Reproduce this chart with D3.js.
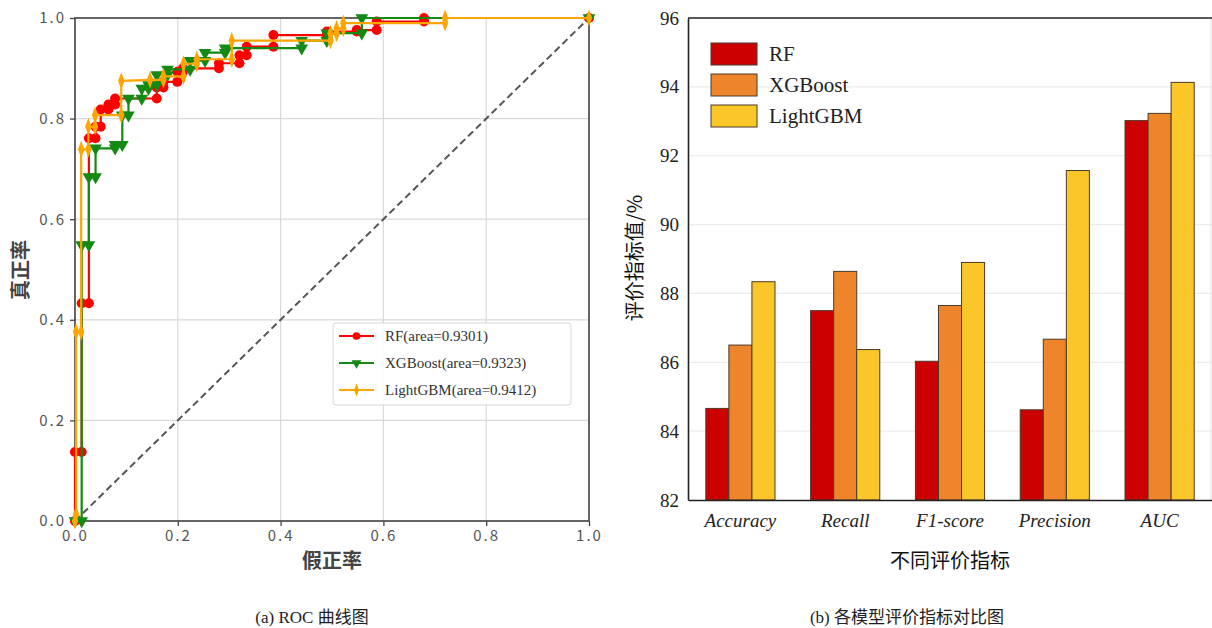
<!DOCTYPE html>
<html>
<head>
<meta charset="utf-8">
<script src="https://cdn.jsdelivr.net/npm/d3@7"></script>
<style>
  body { margin: 0; background: #fff; }
  svg { display: block; }
</style>
</head>
<body>
<svg id="chart" width="1212" height="628"></svg>
<script>
// ROC points (fpr, tpr)
const rfFpr  = [0, 0, 0.013, 0.013, 0.027, 0.027, 0.04, 0.04, 0.05, 0.05, 0.065, 0.065, 0.078, 0.078, 0.159, 0.159, 0.172, 0.172, 0.199, 0.199, 0.21, 0.21, 0.28, 0.28, 0.32, 0.32, 0.334, 0.334, 0.386, 0.386, 0.49, 0.49, 0.548, 0.548, 0.587, 0.587, 0.679, 0.679, 1];
const rfTpr  = [0, 0.137, 0.137, 0.433, 0.433, 0.761, 0.761, 0.784, 0.784, 0.818, 0.818, 0.828, 0.828, 0.84, 0.84, 0.862, 0.862, 0.873, 0.873, 0.893, 0.893, 0.9, 0.9, 0.91, 0.91, 0.926, 0.926, 0.943, 0.943, 0.966, 0.966, 0.973, 0.973, 0.976, 0.976, 0.993, 0.993, 1, 1];
const xgbFpr = [0, 0.013, 0.013, 0.027, 0.027, 0.04, 0.04, 0.078, 0.078, 0.092, 0.092, 0.104, 0.104, 0.13, 0.13, 0.143, 0.143, 0.159, 0.159, 0.18, 0.18, 0.224, 0.224, 0.253, 0.253, 0.292, 0.292, 0.441, 0.441, 0.49, 0.49, 0.558, 0.558, 1];
const xgbTpr = [0, 0, 0.549, 0.549, 0.684, 0.684, 0.741, 0.741, 0.748, 0.748, 0.807, 0.807, 0.84, 0.84, 0.86, 0.86, 0.867, 0.867, 0.887, 0.887, 0.898, 0.898, 0.915, 0.915, 0.931, 0.931, 0.94, 0.94, 0.955, 0.955, 0.97, 0.97, 1, 1];
const lgbFpr = [0, 0.002, 0.002, 0.012, 0.012, 0.026, 0.026, 0.039, 0.039, 0.09, 0.09, 0.146, 0.172, 0.172, 0.211, 0.211, 0.237, 0.237, 0.305, 0.305, 0.497, 0.497, 0.509, 0.509, 0.522, 0.522, 0.72, 0.72, 1];
const lgbTpr = [0, 0.013, 0.376, 0.376, 0.739, 0.739, 0.784, 0.784, 0.807, 0.807, 0.875, 0.877, 0.877, 0.884, 0.884, 0.909, 0.909, 0.918, 0.918, 0.955, 0.955, 0.969, 0.969, 0.979, 0.979, 0.99, 0.99, 1, 1];
const rocNames = ["RF(area=0.9301)", "XGBoost(area=0.9323)", "LightGBM(area=0.9412)"];
const rocTicks = [0, 0.2, 0.4, 0.6, 0.8, 1.0];

// bar chart values (%)
const metrics = ["Accuracy", "Recall", "F1-score", "Precision", "AUC"];
const models = ["RF", "XGBoost", "LightGBM"];
const rfScores  = [84.66, 87.50, 86.03, 84.62, 93.02];
const xgbScores = [86.50, 88.64, 87.65, 86.67, 93.23];
const lgbScores = [88.34, 86.37, 88.90, 91.57, 94.13];
const barTicks = [82, 84, 86, 88, 90, 92, 94, 96];

const svg = d3.select("#chart");
const cjk = "'Noto Sans CJK SC', sans-serif";
const serif = "'Liberation Serif', 'Noto Sans CJK SC', serif";

// ---------- left: ROC ----------
const L = { left: 75, right: 589, top: 18, bottom: 521 };
const x = d3.scaleLinear().domain([0, 1]).range([L.left, L.right]);
const y = d3.scaleLinear().domain([0, 1]).range([L.bottom, L.top]);

const left = svg.append("g");

// grid
left.append("g").selectAll("line.v").data(rocTicks).join("line")
  .attr("x1", d => x(d)).attr("x2", d => x(d))
  .attr("y1", L.top).attr("y2", L.bottom)
  .attr("stroke", "#d9d9d9").attr("stroke-width", 1.2);
left.append("g").selectAll("line.h").data(rocTicks).join("line")
  .attr("x1", L.left).attr("x2", L.right)
  .attr("y1", d => y(d)).attr("y2", d => y(d))
  .attr("stroke", "#d9d9d9").attr("stroke-width", 1.2);

// diagonal
left.append("line")
  .attr("x1", x(0)).attr("y1", y(0)).attr("x2", x(1)).attr("y2", y(1))
  .attr("stroke", "#555").attr("stroke-width", 2).attr("stroke-dasharray", "7,4");

// axes
const fmt = d => d.toFixed(1);
const axB = left.append("g").attr("transform", `translate(0,${L.bottom})`)
  .call(d3.axisBottom(x).tickValues(rocTicks).tickFormat(fmt).tickSize(5).tickPadding(4));
const axL = left.append("g").attr("transform", `translate(${L.left},0)`)
  .call(d3.axisLeft(y).tickValues(rocTicks).tickFormat(fmt).tickSize(5).tickPadding(4));
[axB, axL].forEach(a => {
  a.select(".domain").remove();
  a.selectAll(".tick line").attr("stroke", "#444").attr("stroke-width", 1.3);
  a.selectAll("text").attr("fill", "#555").style("font-family", cjk)
    .style("font-size", "15px").style("letter-spacing", "2px");
});

// frame
left.append("rect")
  .attr("x", L.left).attr("y", L.top)
  .attr("width", L.right - L.left).attr("height", L.bottom - L.top)
  .attr("fill", "none").attr("stroke", "#444").attr("stroke-width", 1.6);

const line = d3.line().x(d => x(d[0])).y(d => y(d[1]));
const series = [
  { fpr: rfFpr, tpr: rfTpr, color: "#ff0000", sym: d3.symbolCircle, size: 78, rot: 0, sx: 1 },
  { fpr: xgbFpr, tpr: xgbTpr, color: "#138a13", sym: d3.symbolTriangle, size: 70, rot: 180, sx: 1 },
  { fpr: lgbFpr, tpr: lgbTpr, color: "#ffa500", sym: d3.symbolDiamond, size: 85, rot: 0, sx: 0.65 }
];
series.forEach(s => {
  const pts = s.fpr.map((f, i) => [f, s.tpr[i]]);
  left.append("path").datum(pts)
    .attr("d", line).attr("fill", "none")
    .attr("stroke", s.color).attr("stroke-width", 2.2);
  left.append("g").selectAll("path").data(pts).join("path")
    .attr("d", d3.symbol(s.sym, s.size))
    .attr("transform", d => `translate(${x(d[0])},${y(d[1])}) rotate(${s.rot}) scale(${s.sx},1)`)
    .attr("fill", s.color);
});

// legend
const lg = left.append("g").attr("transform", "translate(333,323)");
lg.append("rect").attr("width", 238).attr("height", 82).attr("rx", 3)
  .attr("fill", "#fff").attr("fill-opacity", 0.9)
  .attr("stroke", "#d6d6d6").attr("stroke-width", 1);
series.forEach((s, i) => {
  const gy = 13 + i * 27;
  lg.append("line").attr("x1", 6).attr("x2", 41).attr("y1", gy).attr("y2", gy)
    .attr("stroke", s.color).attr("stroke-width", 2.2);
  lg.append("path").attr("d", d3.symbol(s.sym, s.size * 0.6))
    .attr("transform", `translate(23.5,${gy}) rotate(${s.rot}) scale(${s.sx},1)`)
    .attr("fill", s.color);
  lg.append("text").attr("x", 52).attr("y", gy).attr("dy", "0.35em")
    .style("font-family", serif).style("font-size", "15px").attr("fill", "#333")
    .text(rocNames[i]);
});

// axis titles
left.append("text").attr("x", (L.left + L.right) / 2).attr("y", 568)
  .attr("text-anchor", "middle").attr("fill", "#444")
  .style("font-family", cjk).style("font-size", "20px").style("font-weight", "bold")
  .text("假正率");
left.append("text").attr("transform", "translate(28,270) rotate(-90)")
  .attr("text-anchor", "middle").attr("fill", "#444")
  .style("font-family", cjk).style("font-size", "20px").style("font-weight", "bold")
  .text("真正率");

// ---------- right: bars ----------
const R = { left: 688, right: 1212, top: 18, bottom: 500 };
const xb = d3.scaleBand().domain(metrics).range([R.left, R.right]).paddingInner(0.34).paddingOuter(0.17);
const xs = d3.scaleBand().domain(models).range([0, xb.bandwidth()]);
const yb = d3.scaleLinear().domain([82, 96]).range([R.bottom, R.top]);
const colors = d3.scaleOrdinal().domain(models).range(["#cc0000", "#ee852b", "#fbc62a"]);
const scores = [rfScores, xgbScores, lgbScores];

const right = svg.append("g");

right.append("g").selectAll("line").data(barTicks.slice(1, -1)).join("line")
  .attr("x1", R.left).attr("x2", R.right)
  .attr("y1", d => yb(d)).attr("y2", d => yb(d))
  .attr("stroke", "#ececec").attr("stroke-width", 1.2);
right.append("line").attr("x1", R.right - 1).attr("x2", R.right - 1)
  .attr("y1", R.top).attr("y2", R.bottom).attr("stroke", "#e0e0e0");

const rows = [];
metrics.forEach((m, i) => models.forEach((md, j) => rows.push({ m, md, v: scores[j][i] })));
right.append("g").selectAll("rect").data(rows).join("rect")
  .attr("x", d => xb(d.m) + xs(d.md))
  .attr("y", d => yb(d.v))
  .attr("width", xs.bandwidth())
  .attr("height", d => yb(82) - yb(d.v))
  .attr("fill", d => colors(d.md))
  .attr("stroke", "#4a3a2a").attr("stroke-width", 1);

const bx = right.append("g").attr("transform", `translate(0,${R.bottom})`)
  .call(d3.axisBottom(xb).tickSize(0).tickPadding(14));
bx.select(".domain").attr("stroke", "#222").attr("stroke-width", 1.6);
bx.selectAll("text").style("font-family", serif).style("font-size", "19px")
  .style("font-style", "italic").attr("fill", "#222");

const by = right.append("g").attr("transform", `translate(${R.left},0)`)
  .call(d3.axisLeft(yb).tickValues(barTicks).tickSize(0).tickPadding(9));
by.select(".domain").attr("stroke", "#222").attr("stroke-width", 1.6);
by.selectAll("text").style("font-family", serif).style("font-size", "19px").attr("fill", "#222");

right.append("line").attr("x1", R.left).attr("x2", R.right)
  .attr("y1", R.top).attr("y2", R.top).attr("stroke", "#222").attr("stroke-width", 1.6);

// legend
const bl = right.append("g").attr("transform", "translate(711,43)");
models.forEach((md, i) => {
  bl.append("rect").attr("x", 0).attr("y", i * 31).attr("width", 46).attr("height", 22)
    .attr("fill", colors(md)).attr("stroke", "#4a3a2a").attr("stroke-width", 1);
  bl.append("text").attr("x", 58).attr("y", i * 31 + 11).attr("dy", "0.35em")
    .style("font-family", serif).style("font-size", "21px").attr("fill", "#222")
    .text(md);
});

right.append("text").attr("x", (R.left + R.right) / 2).attr("y", 568)
  .attr("text-anchor", "middle").attr("fill", "#111")
  .style("font-family", cjk).style("font-size", "20px")
  .text("不同评价指标");
right.append("text").attr("transform", "translate(642,258) rotate(-90)")
  .attr("text-anchor", "middle").attr("fill", "#111")
  .style("font-family", cjk).style("font-size", "20px")
  .text("评价指标值/%");

// captions
svg.append("text").attr("x", 312).attr("y", 623).attr("text-anchor", "middle")
  .style("font-family", serif).style("font-size", "17px").attr("fill", "#222")
  .text("(a)  ROC 曲线图");
svg.append("text").attr("x", 907).attr("y", 623).attr("text-anchor", "middle")
  .style("font-family", serif).style("font-size", "17px").attr("fill", "#222")
  .text("(b)  各模型评价指标对比图");
</script>
</body>
</html>
